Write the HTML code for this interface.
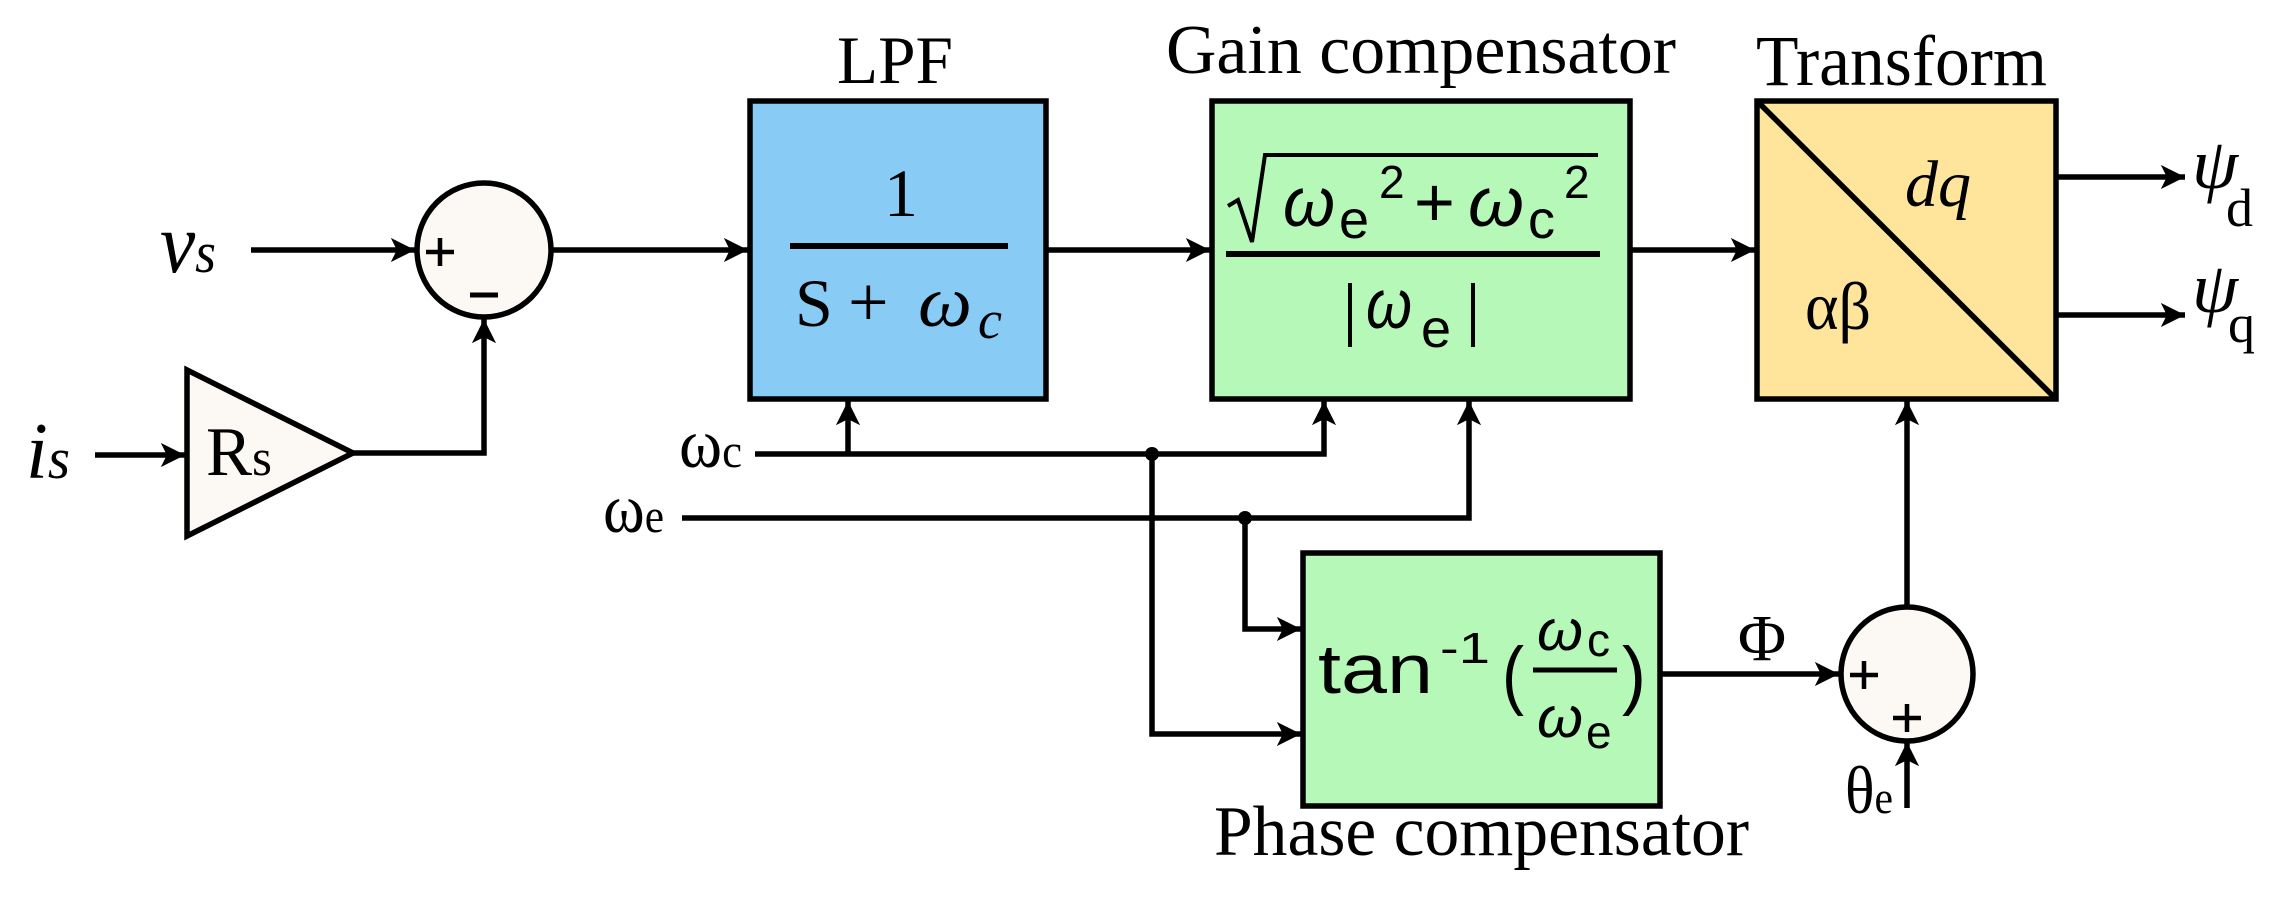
<!DOCTYPE html>
<html><head><meta charset="utf-8"><style>
html,body{margin:0;padding:0;background:#fff;}
svg{display:block;}
.t{font-family:"Liberation Serif",serif;fill:#000;}
.m{font-family:"Liberation Sans","DejaVu Sans",sans-serif;fill:#000;}
</style></head><body>
<svg width="2282" height="897" viewBox="0 0 2282 897" xmlns="http://www.w3.org/2000/svg">
<defs>
<marker id="a" viewBox="0 0 10 10" refX="10" refY="5" markerWidth="4.4" markerHeight="4.4" markerUnits="strokeWidth" orient="auto">
<path d="M0,0 L10,5 L0,10 L2.5,5 z" fill="#000"/></marker>
</defs>
<g stroke="#000" stroke-width="5.5" fill="none">
<rect x="750" y="101" width="296" height="298" fill="#88CBF5"/>
<rect x="1212" y="101" width="418" height="298" fill="#B6F8B8"/>
<rect x="1757" y="101" width="299" height="298" fill="#FFE59C"/>
<line x1="1757" y1="101" x2="2056" y2="399"/>
<rect x="1303" y="553" width="357" height="253" fill="#B6F8B8"/>
<ellipse cx="484" cy="250" rx="67" ry="67" fill="#FCF9F5"/>
<ellipse cx="1907" cy="674" rx="66" ry="67" fill="#FCF9F5"/>
<polygon points="187,370 187,536 353,453" fill="#FCF9F5"/>
<line x1="251" y1="250" x2="415" y2="250" marker-end="url(#a)"/>
<line x1="551" y1="250" x2="748" y2="250" marker-end="url(#a)"/>
<line x1="1046" y1="250" x2="1210" y2="250" marker-end="url(#a)"/>
<line x1="1630" y1="250" x2="1755" y2="250" marker-end="url(#a)"/>
<line x1="95" y1="455" x2="185" y2="455" marker-end="url(#a)"/>
<polyline points="353,453 484,453 484,319" marker-end="url(#a)"/>
<line x1="2056" y1="177" x2="2185" y2="177" marker-end="url(#a)"/>
<line x1="2056" y1="315" x2="2185" y2="315" marker-end="url(#a)"/>
<polyline points="755,454 1324,454 1324,401" marker-end="url(#a)"/>
<line x1="848" y1="454" x2="848" y2="401" marker-end="url(#a)"/>
<polyline points="682,518 1469,518 1469,401" marker-end="url(#a)"/>
<polyline points="1245,518 1245,629 1301,629" marker-end="url(#a)"/>
<polyline points="1152,454 1152,734 1301,734" marker-end="url(#a)"/>
<line x1="1660" y1="674" x2="1839" y2="674" marker-end="url(#a)"/>
<line x1="1907" y1="607" x2="1907" y2="401" marker-end="url(#a)"/>
<line x1="1907" y1="808" x2="1907" y2="742" marker-end="url(#a)"/>
</g>
<circle cx="1152" cy="454" r="7" fill="#000"/>
<circle cx="1245" cy="518" r="7" fill="#000"/>
<g stroke="#000" stroke-width="4.5">
<line x1="426" y1="252" x2="454" y2="252"/><line x1="440" y1="238" x2="440" y2="266"/>
<line x1="470" y1="295" x2="498" y2="295" stroke-width="5"/>
<line x1="1850" y1="675" x2="1878" y2="675"/><line x1="1864" y1="661" x2="1864" y2="689"/>
<line x1="1893" y1="718" x2="1921" y2="718"/><line x1="1907" y1="704" x2="1907" y2="732"/>
</g>
<!-- titles -->
<text class="t" x="837" y="83" font-size="68" textLength="116" lengthAdjust="spacingAndGlyphs">LPF</text>
<text class="t" x="1166" y="73" font-size="70" textLength="510" lengthAdjust="spacingAndGlyphs">Gain compensator</text>
<text class="t" x="1756" y="85" font-size="72" textLength="291" lengthAdjust="spacingAndGlyphs">Transform</text>
<text class="t" x="1214" y="855" font-size="71" textLength="535" lengthAdjust="spacingAndGlyphs">Phase compensator</text>
<!-- left labels -->
<text class="t" x="160" y="272" font-size="86" font-style="italic" textLength="56" lengthAdjust="spacingAndGlyphs">v<tspan font-size="58">s</tspan></text>
<text class="t" x="26" y="478" font-size="80" font-style="italic" textLength="44" lengthAdjust="spacingAndGlyphs">i<tspan font-size="58">s</tspan></text>
<text class="t" x="206" y="475" font-size="70" textLength="66" lengthAdjust="spacingAndGlyphs">R<tspan font-size="52">s</tspan></text>
<text class="t" x="679" y="467" font-size="70" textLength="63" lengthAdjust="spacingAndGlyphs">ω<tspan font-size="48">c</tspan></text>
<text class="t" x="603" y="532" font-size="70" textLength="61" lengthAdjust="spacingAndGlyphs">ω<tspan font-size="48">e</tspan></text>
<!-- LPF formula -->
<text class="t" x="901" y="216" font-size="68" text-anchor="middle">1</text>
<line x1="790" y1="246" x2="1008" y2="246" stroke="#000" stroke-width="6"/>
<text class="t" x="795" y="326" font-size="68">S</text>
<text class="t" x="848" y="326" font-size="72">+</text>
<text class="t" x="918" y="326" font-size="72" font-style="italic" textLength="54" lengthAdjust="spacingAndGlyphs">ω</text>
<text class="t" x="978" y="338" font-size="54" font-style="italic">c</text>
<!-- Gain formula -->
<path d="M1228,206 L1238,200 L1252,242 L1265,155 L1598,155" fill="none" stroke="#000" stroke-width="4"/>
<text class="m" x="1283" y="226" font-size="70" font-style="italic" textLength="52" lengthAdjust="spacingAndGlyphs">ω</text>
<text class="m" x="1339" y="238" font-size="54">e</text>
<text class="m" x="1379" y="198" font-size="46">2</text>
<text class="m" x="1414" y="226" font-size="70">+</text>
<text class="m" x="1468" y="226" font-size="70" font-style="italic" textLength="56" lengthAdjust="spacingAndGlyphs">ω</text>
<text class="m" x="1528" y="238" font-size="54">c</text>
<text class="m" x="1564" y="198" font-size="46">2</text>
<line x1="1226" y1="254" x2="1600" y2="254" stroke="#000" stroke-width="6"/>
<line x1="1350" y1="283" x2="1350" y2="347" stroke="#000" stroke-width="4"/>
<text class="m" x="1366" y="328" font-size="70" font-style="italic" textLength="46" lengthAdjust="spacingAndGlyphs">ω</text>
<text class="m" x="1421" y="347" font-size="54">e</text>
<line x1="1473" y1="283" x2="1473" y2="347" stroke="#000" stroke-width="4"/>
<!-- Transform -->
<text class="t" x="1905" y="206" font-size="66" font-style="italic">dq</text>
<text class="t" x="1805" y="329" font-size="68" textLength="66" lengthAdjust="spacingAndGlyphs">αβ</text>
<text class="t" x="2192" y="188" font-size="72" font-style="italic" textLength="46" lengthAdjust="spacingAndGlyphs">ψ</text>
<text class="t" x="2226" y="226" font-size="54">d</text>
<text class="t" x="2192" y="312" font-size="72" font-style="italic" textLength="46" lengthAdjust="spacingAndGlyphs">ψ</text>
<text class="t" x="2228" y="342" font-size="54">q</text>
<!-- Phase formula -->
<text class="m" x="1318" y="693" font-size="70" textLength="115" lengthAdjust="spacingAndGlyphs">tan</text>
<text class="m" x="1440" y="663" font-size="44" textLength="50" lengthAdjust="spacingAndGlyphs">-1</text>
<text class="m" x="1502" y="700" font-size="76" textLength="22" lengthAdjust="spacingAndGlyphs">(</text>
<text class="m" x="1537" y="650" font-size="58" font-style="italic" textLength="46" lengthAdjust="spacingAndGlyphs">ω</text>
<text class="m" x="1587" y="656" font-size="46">c</text>
<line x1="1533" y1="670" x2="1617" y2="670" stroke="#000" stroke-width="5"/>
<text class="m" x="1537" y="737" font-size="58" font-style="italic" textLength="46" lengthAdjust="spacingAndGlyphs">ω</text>
<text class="m" x="1586" y="748" font-size="46">e</text>
<text class="m" x="1622" y="700" font-size="76" textLength="24" lengthAdjust="spacingAndGlyphs">)</text>
<text class="t" x="1762" y="660" font-size="66" text-anchor="middle">Φ</text>
<text class="t" x="1845" y="813" font-size="68" textLength="48" lengthAdjust="spacingAndGlyphs">θ<tspan font-size="46">e</tspan></text>
</svg>
</body></html>
